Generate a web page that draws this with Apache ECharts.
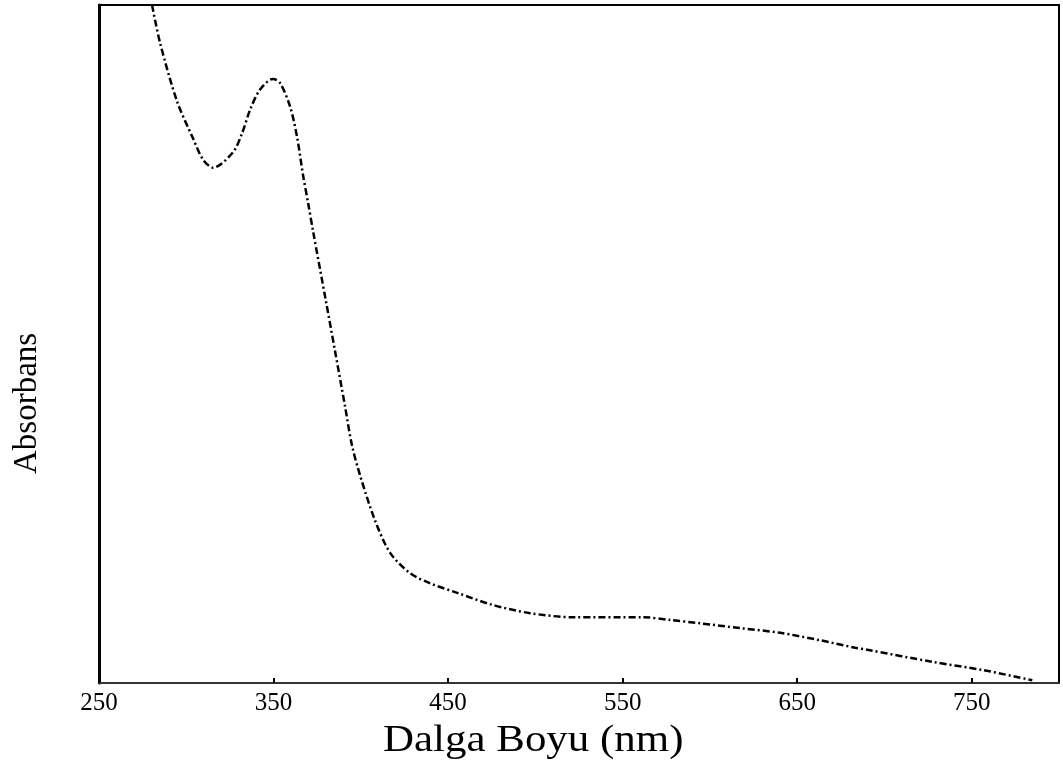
<!DOCTYPE html>
<html>
	<head>
		<meta charset="utf-8" />
		<script src="https://cdn.jsdelivr.net/npm/echarts@6/dist/echarts.min.js"></script>
		<title>Absorbans</title>
		<style>
			* { margin: 0; padding: 0; }
			body { background: #fff; }
			#chart { width: 1063px; height: 771px; }
		</style>
	</head>
	<body>
		<div id="chart"></div>
		<script>
			// dalga boyu (nm) ve absorbans
			var wavelength = [280.4, 285.0, 294.7, 303.9, 309.6, 315.3, 326.8, 332.0, 336.5, 342.2,
				349.7, 353.7, 359.5, 363.5, 366.9, 369.8, 372.6, 380.1, 385.2, 390.9,
				394.9, 399.6, 408.1, 416.8, 428.2, 439.7, 455.2, 475.8, 497.0, 521.6,
				561.7, 577.2, 594.4, 617.3, 640.3, 663.2, 683.2, 690.1, 727.9, 756.6, 784.7];
			var absorbance = [1.0, 0.944, 0.858, 0.803, 0.772, 0.760, 0.783, 0.811, 0.845, 0.875,
				0.891, 0.885, 0.850, 0.805, 0.749, 0.708, 0.667, 0.562, 0.490, 0.409,
				0.351, 0.306, 0.240, 0.192, 0.162, 0.147, 0.133, 0.115, 0.103, 0.097,
				0.097, 0.093, 0.088, 0.081, 0.074, 0.063, 0.052, 0.049, 0.031, 0.019, 0.004];
			var tickValues = [250, 350, 450, 550, 650, 750];

			var points = wavelength.map(function (w, i) { return [w, absorbance[i]]; });

			var chart = echarts.init(document.getElementById('chart'));
			chart.setOption({
				animation: false,
				grid: {
					left: 99, right: 4, top: 5, bottom: 88,
					show: true,
					borderColor: '#000',
					borderWidth: 2
				},
				xAxis: {
					type: 'value',
					min: 250,
					max: 800,
					axisLine: { show: true, lineStyle: { color: '#333', width: 2 } },
					axisTick: {
						show: true, inside: true, length: 5,
						customValues: tickValues,
						lineStyle: { color: '#000', width: 2 }
					},
					axisLabel: {
						customValues: tickValues,
						margin: 8,
						color: '#000',
						fontFamily: 'Liberation Serif',
						fontSize: 25
					},
					splitLine: { show: false }
				},
				yAxis: {
					type: 'value',
					min: 0,
					max: 1,
					axisLine: { show: true, lineStyle: { color: '#000', width: 3 } },
					axisTick: { show: false },
					axisLabel: { show: false },
					splitLine: { show: false }
				},
				graphic: [
					{
						type: 'text',
						x: 383, y: 722,
						scaleX: 1.13,
						style: {
							text: 'Dalga Boyu (nm)',
							fill: '#000',
							font: '38px "Liberation Serif"'
						}
					},
					{
						type: 'text',
						x: 11, y: 474,
						rotation: Math.PI / 2,
						style: {
							text: 'Absorbans',
							fill: '#000',
							font: '33px "Liberation Serif"',
							textBaseline: 'top'
						}
					}
				],
				series: [{
					type: 'line',
					data: points,
					smooth: 0.3,
					showSymbol: false,
					lineStyle: { color: '#000', width: 2.5, type: [7, 3, 2, 3] }
				}]
			});
		</script>
	</body>
</html>
